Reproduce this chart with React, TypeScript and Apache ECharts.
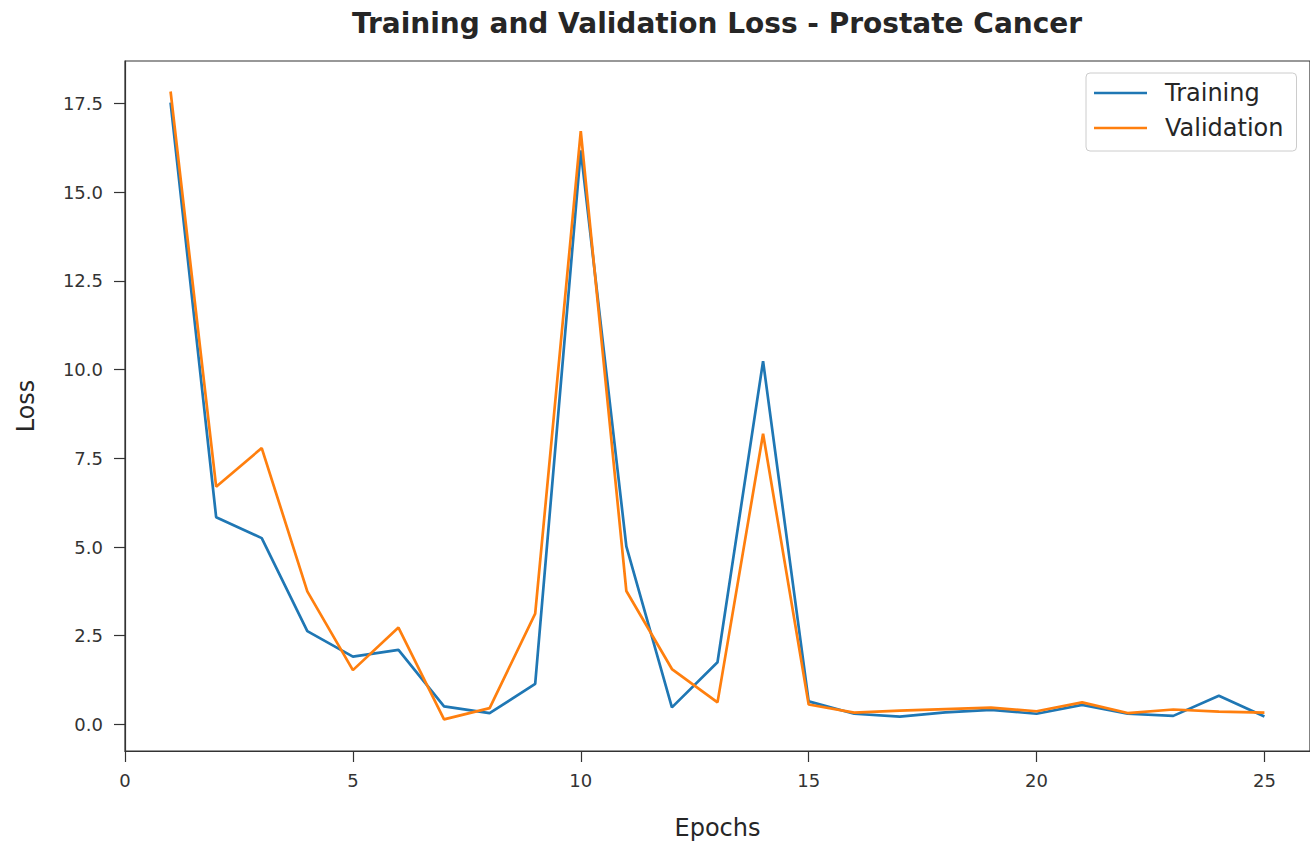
import React, { useEffect, useRef } from "react";
import * as echarts from "echarts";

const epochs: number[] = [1, 2, 3, 4, 5, 6, 7, 8, 9, 10, 11, 12, 13, 14, 15, 16, 17, 18, 19, 20, 21, 22, 23, 24, 25];
const trainingLoss: number[] = [17.53, 5.84, 5.25, 2.63, 1.91, 2.10, 0.51, 0.32, 1.14, 16.18, 5.02, 0.48, 1.75, 10.24, 0.65, 0.30, 0.22, 0.34, 0.41, 0.30, 0.55, 0.30, 0.24, 0.81, 0.22];
const validationLoss: number[] = [17.84, 6.70, 7.79, 3.75, 1.53, 2.73, 0.14, 0.46, 3.12, 16.72, 3.76, 1.56, 0.62, 8.19, 0.56, 0.33, 0.39, 0.43, 0.47, 0.37, 0.62, 0.32, 0.42, 0.36, 0.33];
const xTicks: number[] = [0, 5, 10, 15, 20, 25];
const yTicks: number[] = [0, 2.5, 5, 7.5, 10, 12.5, 15, 17.5];
const seriesNames: string[] = ["Training", "Validation"];
const titleText = "Training and Validation Loss - Prostate Cancer";

const FONT = '"DejaVu Sans", sans-serif';
const INK = "#262626";
const AXIS = "#333333";

export default function App() {
  const ref = useRef<HTMLDivElement>(null);
  useEffect(() => {
    if (!ref.current) return;
    const chart = echarts.init(ref.current, undefined, { renderer: "svg" });
    chart.setOption({
      animation: false,
      backgroundColor: "#ffffff",
      textStyle: { fontFamily: FONT },
      graphic: [
        {
          type: "text",
          x: 717,
          y: 23.5,
          style: {
            text: titleText,
            font: `bold 28px ${FONT}`,
            fill: INK,
            textAlign: "center",
            textVerticalAlign: "middle",
          },
        },
      ],
      grid: {
        left: 125,
        top: 61,
        right: -1,
        bottom: 91,
        show: true,
        borderColor: AXIS,
        borderWidth: 1.2,
        backgroundColor: "transparent",
      },
      legend: {
        left: 1086,
        top: 73,
        orient: "vertical",
        icon: "rect",
        itemWidth: 53,
        itemHeight: 2.6,
        itemGap: 11,
        padding: [8, 13, 11, 8],
        borderColor: "#cccccc",
        borderWidth: 1,
        borderRadius: 4,
        backgroundColor: "rgba(255,255,255,0.8)",
        textStyle: {
          fontFamily: FONT,
          fontSize: 24,
          color: INK,
          lineHeight: 24,
          padding: [0, 0, 0, 13],
        },
        data: seriesNames,
      },
      xAxis: {
        type: "value",
        min: 0,
        max: 26,
        name: "Epochs",
        nameLocation: "middle",
        nameGap: 65,
        nameTextStyle: { fontFamily: FONT, fontSize: 24, color: INK },
        splitLine: { show: false },
        axisLine: { show: true, onZero: false, lineStyle: { color: AXIS, width: 1.2 } },
        axisTick: { show: true, length: 11, customValues: xTicks, lineStyle: { color: AXIS, width: 1.2 } },
        axisLabel: {
          customValues: xTicks,
          margin: 20,
          fontFamily: FONT,
          fontSize: 18,
          color: AXIS,
          formatter: (v: number) => String(v),
        },
      },
      yAxis: {
        type: "value",
        min: -0.75,
        max: 18.7,
        name: "Loss",
        nameLocation: "middle",
        nameGap: 87,
        nameRotate: 90,
        nameTextStyle: { fontFamily: FONT, fontSize: 24, color: INK },
        splitLine: { show: false },
        axisLine: { show: true, onZero: false, lineStyle: { color: AXIS, width: 1.2 } },
        axisTick: { show: true, length: 11, customValues: yTicks, lineStyle: { color: AXIS, width: 1.2 } },
        axisLabel: {
          customValues: yTicks,
          margin: 22,
          fontFamily: FONT,
          fontSize: 18,
          color: AXIS,
          formatter: (v: number) => v.toFixed(1),
        },
      },
      series: [
        {
          name: seriesNames[0],
          type: "line",
          data: epochs.map((e, i) => [e, trainingLoss[i]]),
          symbol: "none",
          lineStyle: { color: "#1f77b4", width: 2.7 },
          itemStyle: { color: "#1f77b4" },
        },
        {
          name: seriesNames[1],
          type: "line",
          data: epochs.map((e, i) => [e, validationLoss[i]]),
          symbol: "none",
          lineStyle: { color: "#ff7f0e", width: 2.7 },
          itemStyle: { color: "#ff7f0e" },
        },
      ],
    });
    return () => chart.dispose();
  }, []);
  return (
    <div
      ref={ref}
      style={{ position: "fixed", left: 0, top: 0, width: 1310, height: 845 }}
    />
  );
}
